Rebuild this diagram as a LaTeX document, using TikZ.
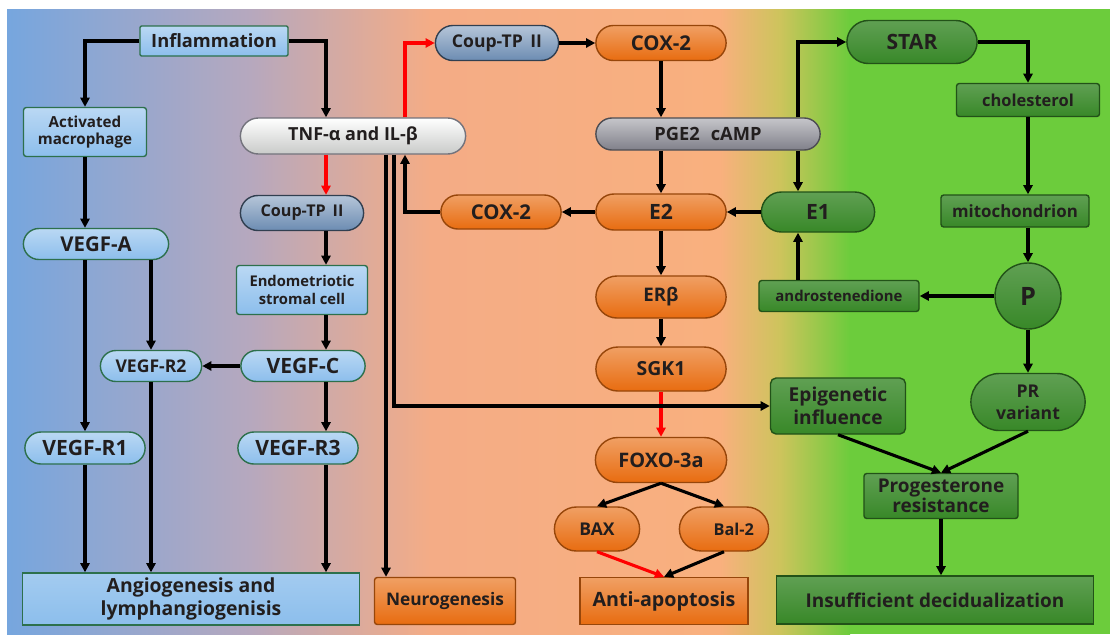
\documentclass[tikz,border=0pt]{standalone}
\usepackage{fontspec}
\setmainfont{Open Sans}
\usepackage{tikz}
\usetikzlibrary{arrows.meta,shapes.misc}

\definecolor{bgblue}{RGB}{118,166,222}
\definecolor{bgmauve}{RGB}{182,168,190}
\definecolor{bgpeach}{RGB}{244,172,134}
\definecolor{bgorange}{RGB}{249,176,126}
\definecolor{bgyellow}{RGB}{205,196,92}
\definecolor{bggreen}{RGB}{108,204,60}
\definecolor{nodeblue}{RGB}{140,190,236}
\definecolor{nodeslate}{RGB}{108,140,178}
\definecolor{nodeorange}{RGB}{232,108,16}
\definecolor{nodegreen}{RGB}{56,136,40}
\definecolor{nodegray}{RGB}{128,128,138}
\definecolor{nodewhite}{RGB}{236,238,236}
\definecolor{ink}{RGB}{34,30,30}
\newcommand{\fs}[1]{\bfseries\fontsize{#1}{#1}\selectfont}

\begin{document}
\begin{tikzpicture}[x=0.025cm,y=-0.025cm,
    box/.style={line width=1pt,font=\bfseries,text=ink,align=center,inner sep=1pt},
    pill/.style={box,rounded rectangle},
    rect/.style={box,rectangle,rounded corners=2pt},
    bluefill/.style={draw=nodeblue!40!black!80!green,top color=nodeblue!60!white,bottom color=nodeblue},
    slatefill/.style={draw=nodeslate!45!black,top color=nodeslate!50!white,bottom color=nodeslate},
    orangefill/.style={draw=nodeorange!65!black,top color=nodeorange!65!white,bottom color=nodeorange},
    greenfill/.style={draw=nodegreen!60!black,top color=nodegreen!80!white,bottom color=nodegreen},
    grayfill/.style={draw=nodegray!60!black,top color=nodegray!45!white,bottom color=nodegray},
    whitefill/.style={draw=nodegray!90!black,top color=white,bottom color=nodewhite!85!black},
    arr/.style={-{Triangle[length=6.5pt,width=6.5pt]},line width=2.2pt,black},
    redarr/.style={arr,red}]

    \useasboundingbox (0,0) rectangle (1110,634);
    % background
    \shade[left color=bgblue,right color=bgmauve] (7,9) rectangle (250,634);
    \shade[left color=bgmauve,right color=bgpeach] (250,9) rectangle (430,634);
    \shade[left color=bgpeach,right color=bgorange] (430,9) rectangle (720,634);
    \shade[left color=bgorange,right color=bgyellow] (720,9) rectangle (780,634);
    \shade[left color=bgyellow,right color=bggreen] (780,9) rectangle (850,634);
    \fill[bggreen] (850,9) rectangle (1110,634);

    % column lines
    \coordinate (xc) at (326,0);
    \coordinate (xd) at (386,0);
    \coordinate (xe) at (394,0);
    \coordinate (xf) at (405,0);
    \coordinate (xh) at (798,0);

    % left part
    \node (infl) at (214,41) [rect,bluefill,rounded corners=1pt,minimum width=3.7cm,minimum height=0.75cm,font=\fs{13}] {Inflammation};
    \node (macro) at (85,132) [rect,bluefill,minimum width=3.075cm,minimum height=1.225cm,font=\fs{10.8}] {Activated\\[1pt]macrophage};
    \node (vegfa) at (96,244) [pill,bluefill,minimum width=3.7cm,minimum height=0.775cm,font=\fs{14.5}] {VEGF-A};
    \node (vegfr2) at (151,366) [pill,bluefill,minimum width=2.6cm,minimum height=0.775cm,font=\fs{12.5}] {VEGF-R2};
    \node (vegfc) at (303,366) [pill,bluefill,minimum width=3.175cm,minimum height=0.775cm,font=\fs{15}] {VEGF-C};
    \node (vegfr1) at (85,448) [pill,bluefill,minimum width=3.075cm,minimum height=0.8cm,font=\fs{15}] {VEGF-R1};
    \node (vegfr3) at (298,448) [pill,bluefill,minimum width=3.075cm,minimum height=0.8cm,font=\fs{15}] {VEGF-R3};
    \node (angio) at (191,599) [rect,bluefill,rounded corners=0pt,top color=nodeblue!80!white,minimum width=8.425cm,minimum height=1.3cm,font=\bfseries\fontsize{13.8}{16}\selectfont] {Angiogenesis and\\lymphangiogenisis};
    \node (tnf) at (353,136) [pill,whitefill,minimum width=5.7cm,minimum height=0.9cm,font=\fs{12.8}] {TNF-α and IL-β};
    \node (coupa) at (302,213) [pill,slatefill,minimum width=3.15cm,minimum height=0.875cm,font=\fs{11.5}] {Coup-TP \,II};
    \node (endo) at (302,290) [rect,bluefill,minimum width=3.275cm,minimum height=1.225cm,font=\fs{10.5}] {Endometriotic\\[2pt]stromal cell};
    \node (neuro) at (445,601) [rect,orangefill,minimum width=3.525cm,minimum height=1.175cm,font=\fs{12.3}] {Neurogenesis};

    % middle part
    \node (coupb) at (497,43) [pill,slatefill,minimum width=3.15cm,minimum height=0.875cm,font=\fs{12.5}] {Coup-TP \,II};
    \node (coxa) at (661,43) [pill,orangefill,minimum width=3.325cm,minimum height=0.875cm,font=\fs{14.5}] {COX-2};
    \node (pge) at (708,134) [pill,grayfill,minimum width=5.675cm,minimum height=0.8cm,font=\fs{13}] {PGE2\hspace{0.6em}cAMP};
    \node (coxb) at (501,212) [pill,orangefill,minimum width=3.075cm,minimum height=0.85cm,font=\fs{14.5}] {COX-2};
    \node (e2) at (661,212) [pill,orangefill,minimum width=3.325cm,minimum height=0.9cm,font=\fs{15}] {E2};
    \node (erb) at (661,297) [pill,orangefill,minimum width=3.325cm,minimum height=1.05cm,font=\fs{13.3}] {ERβ};
    \node (sgk) at (661,369) [pill,orangefill,minimum width=3.325cm,minimum height=1.1cm,font=\fs{13.8}] {SGK1};
    \node (foxo) at (661,460) [pill,orangefill,minimum width=3.35cm,minimum height=1.125cm,font=\fs{14.2}] {FOXO-3a};
    \node (bax) at (597,529) [pill,orangefill,minimum width=2.2cm,minimum height=1.1cm,font=\fs{12.5}] {BAX};
    \node (bal) at (724,529) [pill,orangefill,minimum width=2.3cm,minimum height=1.1cm,font=\fs{11.6}] {\hspace{1.2em}Bal-2};
    \node (anti) at (664,601) [rect,orangefill,rounded corners=0pt,minimum width=4.2cm,minimum height=1.175cm,font=\fs{14}] {Anti-apoptosis};

    % right part
    \node (star) at (912,42) [pill,greenfill,minimum width=3.325cm,minimum height=1.075cm,font=\fs{15}] {STAR};
    \node (chol) at (1028,100) [rect,greenfill,minimum width=3.575cm,minimum height=0.825cm,font=\fs{11.7}] {cholesterol};
    \node (mito) at (1015,211) [rect,greenfill,minimum width=3.7cm,minimum height=0.8cm,font=\fs{12}] {mitochondrion};
    \node (e1) at (818,212) [pill,greenfill,minimum width=2.9cm,minimum height=1.0cm,font=\fs{15}] {E1};
    \node (andro) at (839,296) [rect,greenfill,minimum width=4.0cm,minimum height=0.775cm,font=\fs{10.6}] {androstenedione};
    \node (p) at (1028,296) [circle,box,greenfill,minimum size=1.65cm,font=\fs{18}] {P};
    \node (pr) at (1028,402) [pill,greenfill,minimum width=2.925cm,minimum height=1.425cm,font=\fs{12.5}] {PR\\[3pt]variant};
    \node (epi) at (838,406) [rect,greenfill,rounded corners=4pt,minimum width=3.375cm,minimum height=1.4cm,font=\fs{13.6}] {Epigenetic\\[2pt]influence};
    \node (prog) at (941,496) [rect,greenfill,minimum width=3.85cm,minimum height=1.125cm,font=\fs{13.5}] {Progesterone\\[1pt]resistance};
    \node (insuf) at (935,600) [rect,greenfill,rounded corners=0pt,minimum width=7.925cm,minimum height=1.2cm,font=\fs{13.5}] {Insufficient decidualization};

    % straight connectors
    \path
    (macro.south) edge[arr] (macro.south |- vegfa.north)
    (vegfr1.north |- vegfa.south) edge[arr] (vegfr1.north)
    (vegfr2.north |- vegfa.south) edge[arr] (vegfr2.north)
    (vegfc.west) edge[arr] (vegfr2.east)
    (xc |- tnf.south) edge[redarr] (xc |- coupa.north)
    (xc |- coupa.south) edge[arr] (xc |- endo.north)
    (xc |- endo.south) edge[arr] (xc |- vegfc.north)
    (xc |- vegfc.south) edge[arr] (xc |- vegfr3.north)
    (vegfr1.south) edge[arr] (vegfr1.south |- angio.north)
    (vegfr2.south) edge[arr] (vegfr2.south |- angio.north)
    (xc |- vegfr3.south) edge[arr] (xc |- angio.north)
    (xd |- tnf.south) edge[arr] (xd |- neuro.north)
    (coupb.east) edge[arr] (coxa.west)
    (coxa.south) edge[arr] (coxa.south |- pge.north)
    (e2.north |- pge.south) edge[arr] (e2.north)
    (e2.west) edge[arr] (coxb.east)
    (e2.south) edge[arr] (erb.north)
    (erb.south) edge[arr] (sgk.north)
    (sgk.south) edge[redarr] (foxo.north)
    (foxo.south) edge[arr] (bax.north)
    (foxo.south) edge[arr] (bal.north)
    (bax.south) edge[redarr] (anti.north)
    (bal.south) edge[arr] (anti.north)
    (xh |- pge.south) edge[arr] (xh |- e1.north)
    (e1.west) edge[arr] (e2.east)
    (xh |- andro.north) edge[arr] (xh |- e1.south)
    (p.west) edge[arr] (andro.east)
    (chol.south) edge[arr] (chol.south |- mito.north)
    (chol.south |- mito.south) edge[arr] (p.north)
    (p.south) edge[arr] (pr.north)
    (epi.south) edge[arr] (prog.north)
    (pr.south) edge[arr] (prog.north)
    (prog.south) edge[arr] (prog.south |- insuf.north)
    ;

    % bent connectors
    \draw[arr] (infl.west) -| (macro.north);
    \draw[arr] (infl.east) -| (xc |- tnf.north);
    \draw[arr] (xe |- tnf.south) |- (epi.west);
    \draw[arr] (coxb.west) -| (xf |- tnf.south);
    \draw[redarr] (xf |- tnf.north) |- (coupb.west);
    \draw[arr] (xh |- pge.north) |- (star.west);
    \draw[arr] (star.east) -| (chol.north);
\end{tikzpicture}
\end{document}
